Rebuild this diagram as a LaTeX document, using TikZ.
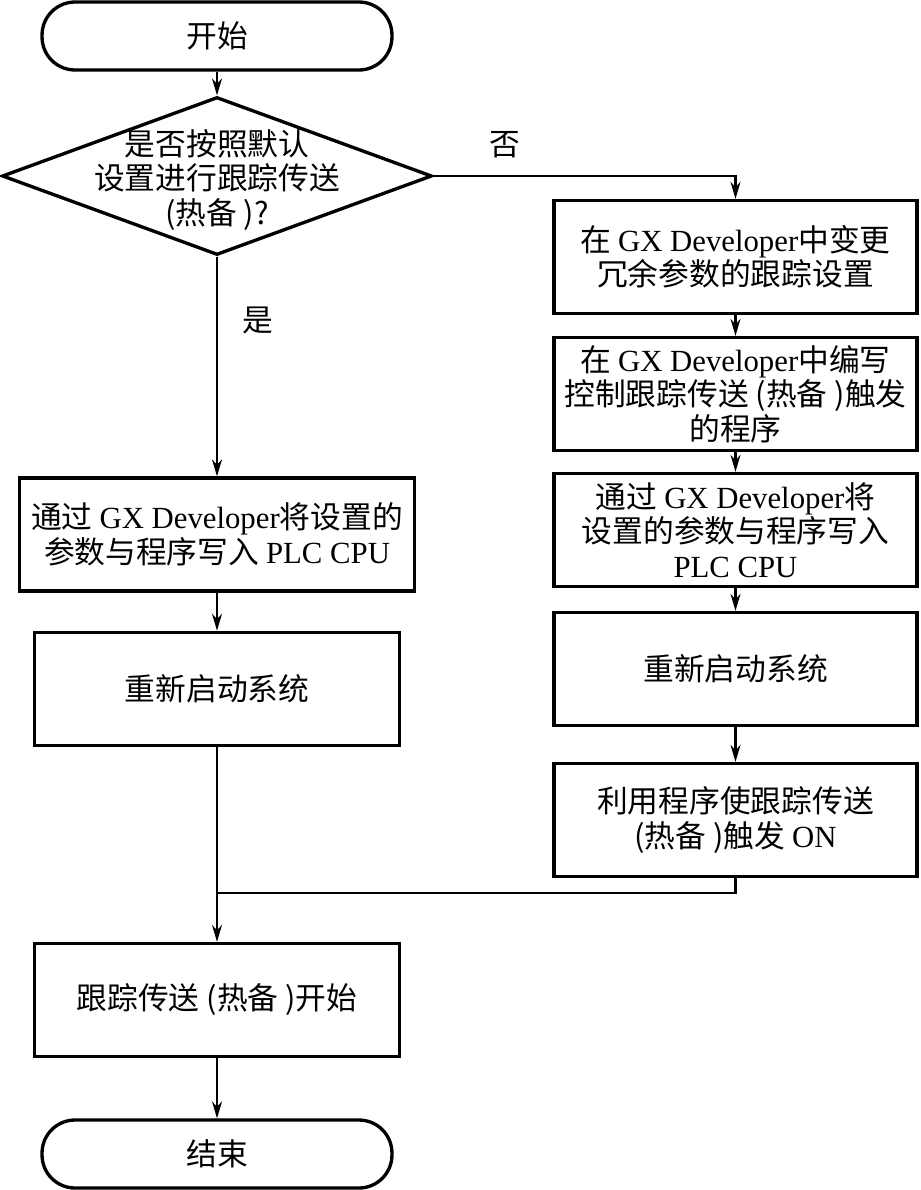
\documentclass[tikz,border=0pt]{standalone}
\usepackage{fontspec}
\setmainfont{Noto Sans CJK SC}
\newfontfamily\latinfont{Liberation Serif}
\newcommand{\en}[1]{{\latinfont #1}}
\usetikzlibrary{positioning, shapes.geometric, arrows.meta}

\begin{document}
\begin{tikzpicture}[
    x=0.02cm, y=-0.02cm,
    font=\fontsize{17.5}{19.6}\selectfont,
    term/.style={rectangle, draw, line width=1.9pt, rounded corners=0.66cm, minimum width=7cm, minimum height=1.36cm},
    proc/.style={rectangle, draw, line width=1.9pt, align=center, minimum height=2.26cm},
    decision/.style={diamond, draw, line width=1.9pt, minimum width=8.6cm, minimum height=3.16cm, inner sep=0pt},
    arrow/.style={draw, line width=1.2pt, -{Stealth[length=3.4mm, width=2mm]}},
    line/.style={draw, line width=1.2pt}
]
\useasboundingbox (0,0) rectangle (920,1190);

% Start and decision
\node[term] (start) at (217,36) {开始};
\node[decision] (dec) at (217,176) {};
\node[align=center] (dectext) at (217,180) {是否按照默认\\设置进行跟踪传送\\(热备 )?};

% Branch labels
\node (no) at (505,145) {否};
\node (yes) at (258,320) {是};

% Right column (No)
\node[proc, minimum width=7.26cm] (r1) at (735.5,257) {在 \en{GX Developer}中变更\\冗余参数的跟踪设置};
\node[proc, minimum width=7.26cm] (r2) at (735.5,394) {在 \en{GX Developer}中编写\\控制跟踪传送 (热备 )触发\\的程序};
\node[proc, minimum width=7.26cm] (r3) at (735.5,530) {通过 \en{GX Developer}将\\设置的参数与程序写入\\\en{PLC CPU}};
\node[proc, minimum width=7.26cm] (r4) at (735.5,669) {重新启动系统};
\node[proc, minimum width=7.26cm] (r5) at (735.5,820) {利用程序使跟踪传送\\(热备 )触发 \en{ON}};

% Left column (Yes)
\node[proc, minimum width=7.9cm] (l1) at (217,534.5) {通过 \en{GX Developer}将设置的\\参数与程序写入 \en{PLC CPU}};
\node[proc, minimum width=7.3cm, below=0.76cm of l1] (l2) {重新启动系统};
\node[proc, minimum width=7.3cm] (l3) at (217,1000) {跟踪传送 (热备 )开始};
\node[term] (end) at (217,1154) {结束};
\coordinate (merge) at (217,893);

% Connections
\draw[arrow] (start) -- (dec);
\draw[arrow] (dec.east) -| (r1.north);
\draw[arrow] (r1) -- (r2);
\draw[arrow] (r2) -- (r3);
\draw[arrow] (r3) -- (r4);
\draw[arrow] (r4) -- (r5);
\draw[arrow] (dec.south) -- (l1.north);
\draw[arrow] (l1) -- (l2);
\draw[arrow] (l2) -- (l3);
\draw[line] (r5.south) |- (merge);
\draw[arrow] (l3) -- (end);

\end{tikzpicture}
\end{document}
